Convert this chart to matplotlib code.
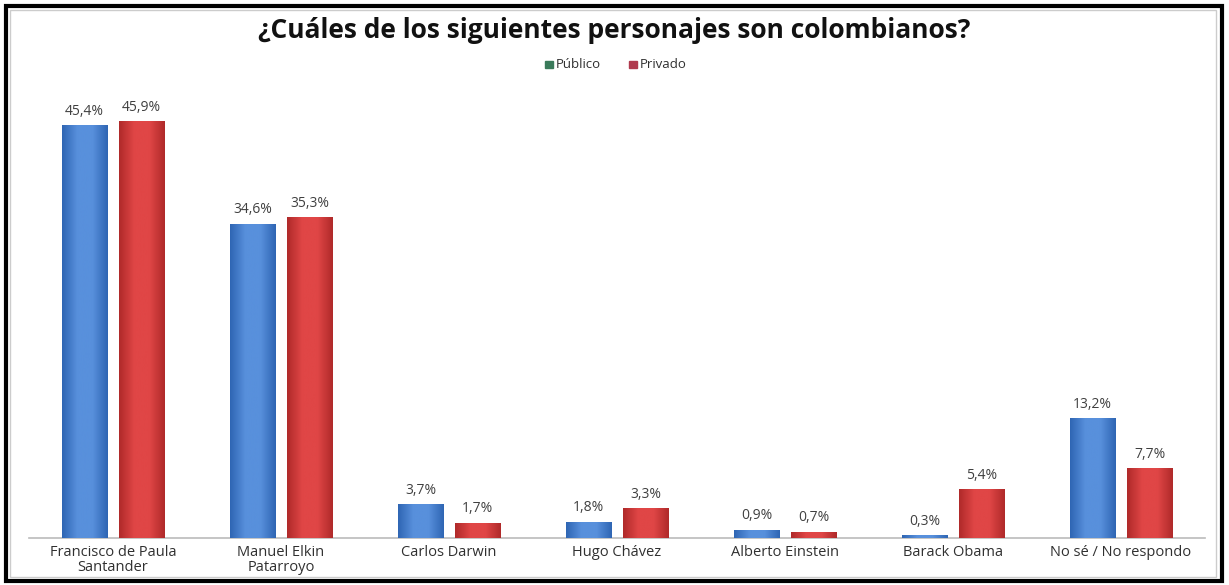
import matplotlib.pyplot as plt
import numpy as np
from matplotlib.patches import Rectangle

# data
categorias = ["Francisco de Paula\nSantander", "Manuel Elkin\nPatarroyo", "Carlos Darwin",
              "Hugo Chávez", "Alberto Einstein", "Barack Obama", "No sé / No respondo"]
publico = [45.4, 34.6, 3.7, 1.8, 0.9, 0.3, 13.2]
privado = [45.9, 35.3, 1.7, 3.3, 0.7, 5.4, 7.7]
series = ["Público", "Privado"]

plt.rcParams['font.family'] = ['Open Sans', 'DejaVu Sans']

fig = plt.figure(figsize=(12.29, 5.85), dpi=100)
ax = fig.add_axes([29 / 1229, 1 - 538 / 585, (1205 - 29) / 1229, 438 / 585])

x = np.arange(len(categorias))
w = 0.27
off = 0.17


def gradient_bars(bars, dark, light):
    cmap = plt.matplotlib.colors.LinearSegmentedColormap.from_list("g", [dark, light, light, dark])
    grad = np.linspace(0, 1, 64).reshape(1, -1)
    for b in bars:
        x0, y0 = b.get_x(), b.get_y()
        bw, bh = b.get_width(), b.get_height()
        im = ax.imshow(grad, cmap=cmap, aspect='auto', extent=[x0, x0 + bw, y0, y0 + bh],
                       zorder=3, interpolation='bicubic')
        im.set_clip_path(b)
        b.set_facecolor('none')


b1 = ax.bar(x - off, publico, w, color='#3d78c8', edgecolor='#2d5a9a', linewidth=0.6, zorder=2)
b2 = ax.bar(x + off, privado, w, color='#cc3535', edgecolor='#9a2525', linewidth=0.6, zorder=2)
gradient_bars(b1, '#2f66b4', '#5890dc')
gradient_bars(b2, '#b02a2a', '#e04646')

for xi, v in zip(x - off, publico):
    ax.text(xi, v + 0.7, f"{v:.1f}%".replace('.', ','), ha='center', va='bottom',
            fontsize=10, color='#404040')
for xi, v in zip(x + off, privado):
    ax.text(xi, v + 0.7, f"{v:.1f}%".replace('.', ','), ha='center', va='bottom',
            fontsize=10, color='#404040')

ax.set_xlim(-0.5, len(categorias) - 0.5)
ax.set_ylim(0, 48.2)
ax.set_xticks(x)
ax.set_xticklabels(categorias, fontsize=10.5, color='#303030', linespacing=1.05)
ax.tick_params(axis='x', length=0, pad=5)
ax.set_yticks([])
for s in ['top', 'right', 'left']:
    ax.spines[s].set_visible(False)
ax.spines['bottom'].set_color('#bbbbbb')
ax.spines['bottom'].set_linewidth(1.2)

fig.text(0.5, 1 - 31 / 585, "¿Cuáles de los siguientes personajes son colombianos?",
         ha='center', va='center', fontsize=19, fontweight='bold', color='#111111')

# legend
fig.patches.append(Rectangle((545 / 1229, 1 - 68 / 585), 8 / 1229, 7 / 585,
                             transform=fig.transFigure, color='#3a7a5a'))
fig.text(556 / 1229, 1 - 64 / 585, series[0], ha='left', va='center', fontsize=9.5, color='#303030')
fig.patches.append(Rectangle((629 / 1229, 1 - 68 / 585), 8 / 1229, 7 / 585,
                             transform=fig.transFigure, color='#b03a4e'))
fig.text(640 / 1229, 1 - 64 / 585, series[1], ha='left', va='center', fontsize=9.5, color='#303030')

# frame
fig.patches.append(Rectangle((6 / 1229, 4 / 585), 1216 / 1229, 575 / 585, transform=fig.transFigure,
                             fill=False, edgecolor='black', linewidth=3))
fig.patches.append(Rectangle((10 / 1229, 8 / 585), 1206 / 1229, 567 / 585, transform=fig.transFigure,
                             fill=False, edgecolor='#cccccc', linewidth=1))

fig.savefig("out.png", dpi=100)
